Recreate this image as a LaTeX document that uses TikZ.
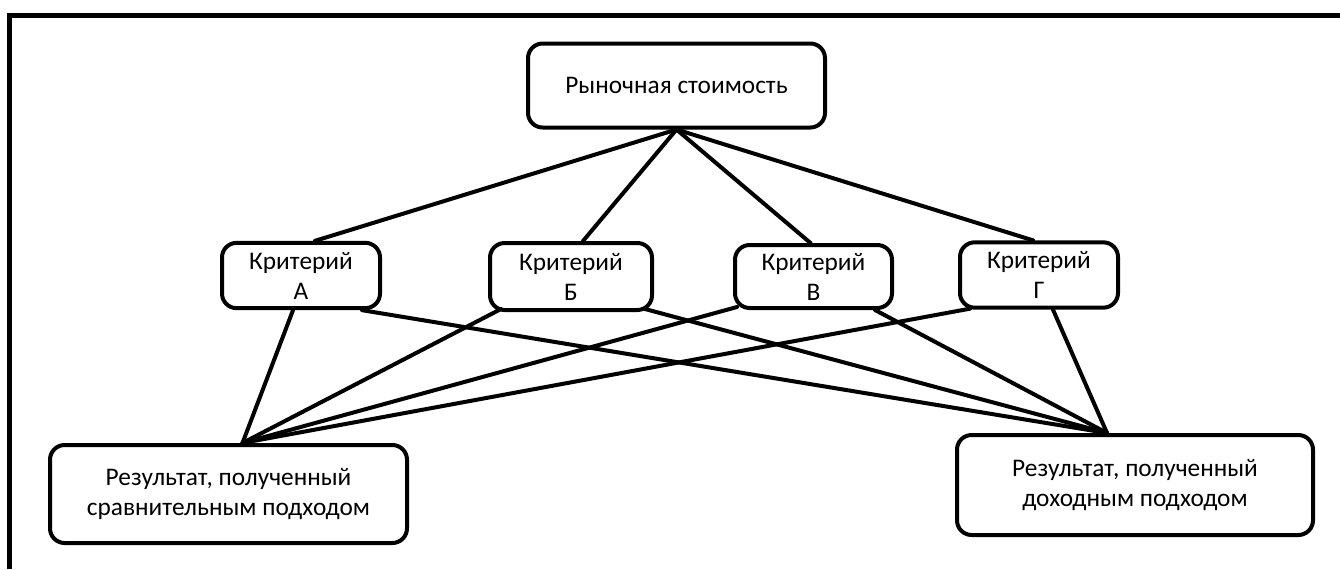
\documentclass[tikz,border=0pt]{standalone}
\usepackage{fontspec}
\setmainfont{Carlito}
\usetikzlibrary{calc}
\begin{document}
\begin{tikzpicture}[x=0.75pt,y=-0.75pt]
		\tikzset{box/.style = {draw, line width=3pt, rounded corners=11pt, fill=white, inner sep=0pt, align=center, font=\fontsize{19}{22.5}\selectfont}}
		\tikzset{crit/.style = {box, minimum width=118.5pt, minimum height=49pt}}
		\tikzset{edge/.style = {line width=3pt, line cap=round}}
		
		\useasboundingbox (0,0) rectangle (1340,569);
		\draw[line width=3.75pt] (9.8,569) -- (9.8,15.8) -- (1340,15.8);
		
		\node[box, minimum width=222.75pt, minimum height=63pt] (T) at (676.5, 85.5) {Рыночная стоимость};
		\node[crit] (A) at ( 301, 275.5) {Критерий\\А};
		\node[crit, minimum width=121.5pt, minimum height=50.25pt] (B) at ( 571, 276.5) {Критерий\\Б};
		\node[crit, minimum width=117.75pt, minimum height=47.25pt] (V) at ( 813.5, 276.5) {Критерий\\В};
		\node[crit] (G) at (1039, 275) {Критерий\\Г};
		\node[box, minimum width=267.75pt, minimum height=73.5pt] (L) at ( 228.5, 494) {Результат, полученный\\сравнительным подходом};
		\node[box, minimum width=267pt, minimum height=75pt] (R) at (1135, 485) {Результат, полученный\\доходным подходом};
		
		\draw[edge] (T.south) to ($(A.north)+(14,0)$);
		\draw[edge] (T.south) to ($(B.north)+(12,0)$);
		\draw[edge] (T.south) to ($(V.north)+(-3,0)$);
		\draw[edge] (T.south) to ($(G.north)+(-6,0)$);
		
		\draw[edge] ($(L.north)+(14,0)$) to ($(A.south)+(-8,0)$);
		\draw[edge] ($(L.north)+(14,0)$) to ($(B.south west)+(13,-3)$);
		\draw[edge] ($(L.north)+(14,0)$) to ($(V.south west)+(4,-3)$);
		\draw[edge] ($(L.north)+(14,0)$) to ($(G.south west)+(12,-1)$);
		
		\draw[edge] ($(R.north)+(-28,0)$) to ($(A.south east)+(-20,0)$);
		\draw[edge] ($(R.north)+(-28,0)$) to ($(B.south east)+(-9,-3)$);
		\draw[edge] ($(R.north)+(-28,0)$) to ($(V.south east)+(-19,0)$);
		\draw[edge] ($(R.north)+(-28,0)$) to ($(G.south)+(14,0)$);
\end{tikzpicture}
\end{document}
